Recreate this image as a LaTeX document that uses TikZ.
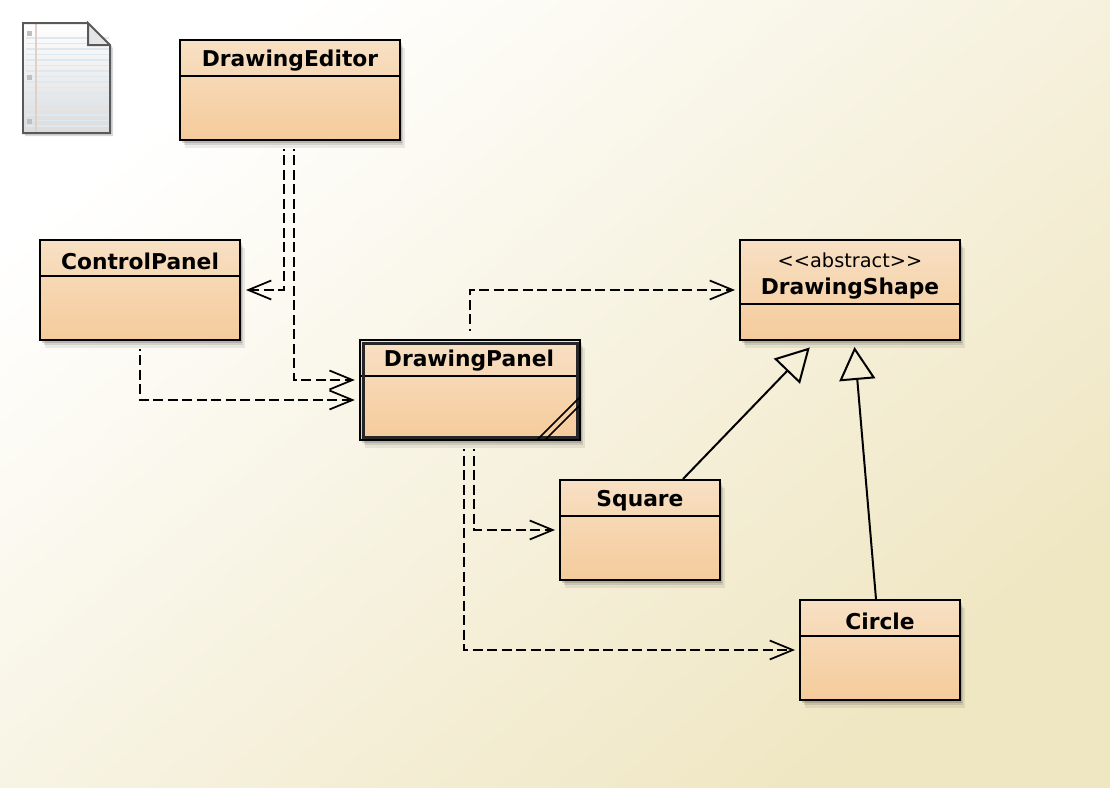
\documentclass[tikz,border=0pt]{standalone}
\usepackage{fontspec}
\setmainfont{DejaVu Sans}
\usetikzlibrary{arrows.meta,shadows}
\definecolor{boxtop}{RGB}{247,224,196}
\definecolor{boxbottom}{RGB}{245,203,155}
\definecolor{bgstart}{RGB}{255,255,255}
\definecolor{bgend}{RGB}{239,230,194}
\definecolor{ruled}{RGB}{222,232,240}
\definecolor{margin}{RGB}{226,208,200}
\tikzset{
  classbox/.style={draw=black,line width=0.04cm,top color=boxtop,bottom color=boxbottom,
    inner sep=0pt,
    drop shadow={shadow xshift=0.1cm,shadow yshift=-0.16cm,opacity=0.07,fill=black},
    drop shadow={shadow xshift=0.07cm,shadow yshift=-0.11cm,opacity=0.1,fill=black},
    drop shadow={shadow xshift=0.04cm,shadow yshift=-0.06cm,opacity=0.14,fill=black}},
  classname/.style={font=\fontsize{12.4}{14}\selectfont\bfseries,inner sep=0pt},
  stereotype/.style={font=\fontsize{11}{12}\selectfont,inner sep=0pt},
  divider/.style={black,line width=0.04cm},
  deparrow/.style={black,line width=0.035cm,dash pattern=on 0.2cm off 0.09cm,dash phase=0.16cm,shorten <=0.16cm,
    -{Straight Barb[length=0.46cm,width=0.38cm,line width=0.035cm,sep=0pt]}},
  inheritarrow/.style={black,line width=0.04cm,
    -{Triangle[open,length=0.66cm,width=0.72cm,line width=0.04cm]}}
}
\begin{document}
\begin{tikzpicture}[x=0.02cm,y=-0.02cm]
\useasboundingbox (0,0) rectangle (1110,788);
\shade [shading=axis,left color=bgstart,right color=bgend,shading angle=40] (0,0) rectangle (1110,788);
% note icon
\fill [black,opacity=0.15] (25,26) -- (90,26) -- (113,48) -- (113,136) -- (25,136) -- cycle;
\shade [top color=white,bottom color=black!14] (23,23) -- (88,23) -- (110,45) -- (110,133) -- (23,133) -- cycle;
\foreach \y in {38,43.5,...,128} {
  \draw [ruled,line width=0.025cm] (26,\y) -- (109,\y);
}
\draw [margin,line width=0.035cm] (36,24) -- (36,132);
\fill [black!25] (27,31) rectangle (32,36);
\fill [black!25] (27,75) rectangle (32,80);
\fill [black!25] (27,119) rectangle (32,124);
\fill [black!10] (88,23) -- (110,45) -- (88,45) -- cycle;
\draw [black!65,line width=0.04cm] (88,23) -- (23,23) -- (23,133) -- (110,133) -- (110,45) -- (88,23) -- (88,45) -- (110,45);
% classes
\node [classbox,minimum width=4.4cm,minimum height=2cm] (editor) at (290,90) {};
\node [classname] (editorname) at (290,61) {DrawingEditor};
\draw [divider] (editor.west |- 0,76) -- (editor.east |- 0,76);
\node [classbox,minimum width=4cm,minimum height=2cm] (control) at (140,290) {};
\node [classname] (controlname) at (140,261) {ControlPanel};
\draw [divider] (control.west |- 0,276) -- (control.east |- 0,276);
\node [classbox,line width=0.05cm,minimum width=4.4cm,minimum height=2cm] (panel) at (470,390) {};
\node [classname] (panelname) at (469,361) {DrawingPanel};
\draw [divider] (panel.west |- 0,376) -- (panel.east |- 0,376);
\draw [black!85,line width=0.06cm] (363,343) rectangle (577,437);
\draw [black,line width=0.03cm] (537,440) -- (580,397);
\draw [black,line width=0.03cm] (545,440) -- (580,405);
\node [classbox,minimum width=4.4cm,minimum height=2cm] (shape) at (850,290) {};
\node [stereotype] (shapetype) at (850,260) {<{}<abstract>{}>};
\node [classname] (shapename) at (850,289) {DrawingShape};
\draw [divider] (shape.west |- 0,304) -- (shape.east |- 0,304);
\node [classbox,minimum width=3.2cm,minimum height=2cm] (square) at (640,530) {};
\node [classname] (squarename) at (640,501) {Square};
\draw [divider] (square.west |- 0,516) -- (square.east |- 0,516);
\node [classbox,minimum width=3.2cm,minimum height=2cm] (circle) at (880,650) {};
\node [classname] (circlename) at (880,621) {Circle};
\draw [divider] (circle.west |- 0,636) -- (circle.east |- 0,636);
% dependencies
\draw [deparrow,shorten >=0.1cm] ([xshift=-0.12cm]editor.south) |- (control.east);
\draw [deparrow,shorten >=0.08cm] ([xshift=0.08cm]editor.south) |- ([yshift=0.2cm]panel.west);
\draw [deparrow,shorten >=0.08cm] (control.south) |- ([yshift=-0.2cm]panel.west);
\draw [deparrow,shorten >=0.08cm] (panel.north) |- (shape.west);
\draw [deparrow,shorten >=0.08cm] ([xshift=0.08cm]panel.south) |- (square.west);
\draw [deparrow,shorten >=0.08cm] ([xshift=-0.12cm]panel.south) |- (circle.west);
% inheritance
\draw [inheritarrow,shorten >=0.18cm] ([xshift=0.86cm]square.north) -- ([xshift=-0.68cm]shape.south);
\draw [inheritarrow,shorten >=0.12cm] ([xshift=-0.08cm]circle.north) -- ([xshift=0.08cm]shape.south);
\end{tikzpicture}
\end{document}
